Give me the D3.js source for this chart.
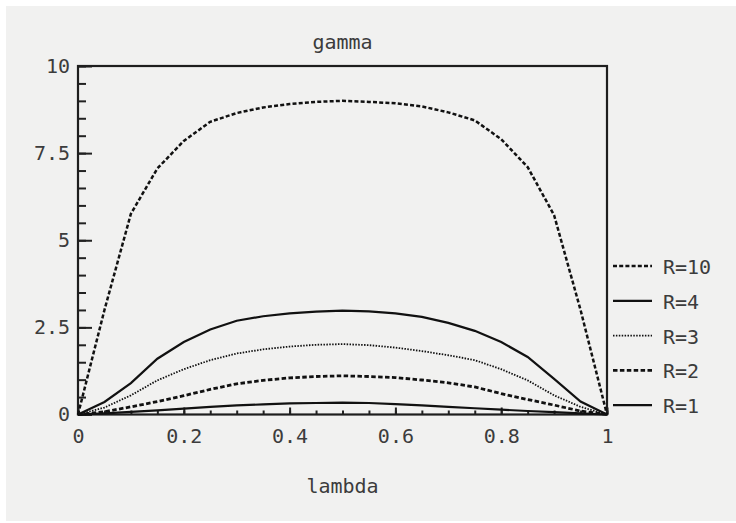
<!DOCTYPE html>
<html>
<head>
<meta charset="utf-8">
<script src="https://cdn.jsdelivr.net/npm/d3@7"></script>
<style>
  body { margin: 0; background: #fff; }
  text { font-family: "DejaVu Sans Mono", monospace; fill: #3c3c3c; }
</style>
</head>
<body>
<script>
var lambda = [0, 0.05, 0.1, 0.15, 0.2, 0.25, 0.3, 0.35, 0.4, 0.45, 0.5,
              0.55, 0.6, 0.65, 0.7, 0.75, 0.8, 0.85, 0.9, 0.95, 1];

var r10 = [0, 3.0, 5.76, 7.06, 7.85, 8.4, 8.65, 8.81, 8.91, 8.97, 9.0,
           8.97, 8.93, 8.84, 8.67, 8.44, 7.9, 7.1, 5.72, 3.0, 0];
var r4  = [0, 0.36, 0.9, 1.6, 2.08, 2.44, 2.69, 2.82, 2.9, 2.95, 2.98,
           2.96, 2.9, 2.8, 2.63, 2.4, 2.08, 1.65, 1.02, 0.37, 0];
var r3  = [0, 0.2, 0.55, 0.98, 1.3, 1.56, 1.75, 1.87, 1.95, 2.0, 2.02,
           1.99, 1.92, 1.82, 1.7, 1.56, 1.3, 0.98, 0.55, 0.22, 0];
var r2  = [0, 0.08, 0.22, 0.37, 0.54, 0.72, 0.88, 0.98, 1.05, 1.09, 1.11,
           1.09, 1.06, 0.99, 0.91, 0.79, 0.6, 0.43, 0.27, 0.1, 0];
var r1  = [0, 0.03, 0.075, 0.12, 0.17, 0.22, 0.26, 0.29, 0.32, 0.33, 0.34,
           0.33, 0.3, 0.26, 0.22, 0.18, 0.14, 0.1, 0.07, 0.03, 0];

var seriesNames = ['R=10', 'R=4', 'R=3', 'R=2', 'R=1'];
var seriesValues = [r10, r4, r3, r2, r1];

var xTicks = [0, 0.2, 0.4, 0.6, 0.8, 1];
var xTickLabels = ['0', '0.2', '0.4', '0.6', '0.8', '1'];
var yTicks = [0, 2.5, 5, 7.5, 10];
var yTickLabels = ['0', '2.5', '5', '7.5', '10'];

// line styles per series (same order as seriesNames)
var dashes = ['4,2.2', null, '1.5,1.4', '4.5,2.4', null];
var widths = [2.5, 2.2, 1.8, 2.8, 2.2];

var w = 736, h = 523;
var plotLeft = 78, plotRight = 607, plotTop = 66, plotBottom = 414.5;
var fs = 20;

var svg = d3.select('body').append('svg')
  .attr('width', w)
  .attr('height', h);

// scanned paper
svg.append('rect')
  .attr('x', 6).attr('y', 6)
  .attr('width', w - 6).attr('height', h - 8)
  .attr('fill', '#f1f1f0');

var x = d3.scaleLinear().domain([0, 1]).range([plotLeft, plotRight]);
var y = d3.scaleLinear().domain([0, 10]).range([plotBottom, plotTop]);

// minor ticks
svg.append('g')
  .attr('transform', 'translate(0,' + plotBottom + ')')
  .call(d3.axisBottom(x).tickValues(d3.range(0, 21).map(function(i) { return i / 20; }))
    .tickSize(-4).tickFormat(''))
  .call(function(g) { g.select('.domain').remove(); });

svg.append('g')
  .attr('transform', 'translate(' + plotLeft + ',0)')
  .call(d3.axisLeft(y).tickValues(d3.range(0, 21).map(function(i) { return i / 2; }))
    .tickSize(-8).tickFormat(''))
  .call(function(g) { g.select('.domain').remove(); });

// major ticks + labels
var xAxis = svg.append('g')
  .attr('transform', 'translate(0,' + plotBottom + ')')
  .call(d3.axisBottom(x).tickValues(xTicks).tickSize(-7).tickPadding(14)
    .tickFormat(function(d, i) { return xTickLabels[i]; }));

var yAxis = svg.append('g')
  .attr('transform', 'translate(' + plotLeft + ',0)')
  .call(d3.axisLeft(y).tickValues(yTicks).tickSize(-14).tickPadding(8)
    .tickFormat(function(d, i) { return yTickLabels[i]; }));

[xAxis, yAxis].forEach(function(g) {
  g.select('.domain').remove();
  g.selectAll('text').attr('font-size', fs).attr('font-family', null);
});
svg.selectAll('.tick line').attr('stroke', '#222').attr('stroke-width', 2);

// frame
svg.append('rect')
  .attr('x', plotLeft).attr('y', plotTop)
  .attr('width', plotRight - plotLeft).attr('height', plotBottom - plotTop)
  .attr('fill', 'none')
  .attr('stroke', '#1e1e1e')
  .attr('stroke-width', 2.2);

// curves
var line = d3.line()
  .x(function(d, i) { return x(lambda[i]); })
  .y(function(d) { return y(d); });

svg.selectAll('.curve')
  .data(seriesValues)
  .enter()
  .append('path')
  .attr('class', 'curve')
  .attr('d', line)
  .attr('fill', 'none')
  .attr('stroke', '#111')
  .attr('stroke-width', function(d, i) { return widths[i]; })
  .attr('stroke-dasharray', function(d, i) { return dashes[i]; });

// legend
var legend = svg.selectAll('.legend')
  .data(seriesNames)
  .enter()
  .append('g')
  .attr('class', 'legend')
  .attr('transform', function(d, i) { return 'translate(613,' + (266 + i * 34.8) + ')'; });

legend.append('line')
  .attr('x1', 0).attr('x2', 39)
  .attr('stroke', '#111')
  .attr('stroke-width', function(d, i) { return widths[i]; })
  .attr('stroke-dasharray', function(d, i) { return dashes[i]; });

legend.append('text')
  .attr('x', 50)
  .attr('y', 8)
  .attr('font-size', fs)
  .text(function(d) { return d; });

// axis titles
svg.append('text')
  .attr('x', (plotLeft + plotRight) / 2)
  .attr('y', 49)
  .attr('text-anchor', 'middle')
  .attr('font-size', fs)
  .text('gamma');

svg.append('text')
  .attr('x', (plotLeft + plotRight) / 2)
  .attr('y', 493)
  .attr('text-anchor', 'middle')
  .attr('font-size', fs)
  .text('lambda');
</script>
</body>
</html>
